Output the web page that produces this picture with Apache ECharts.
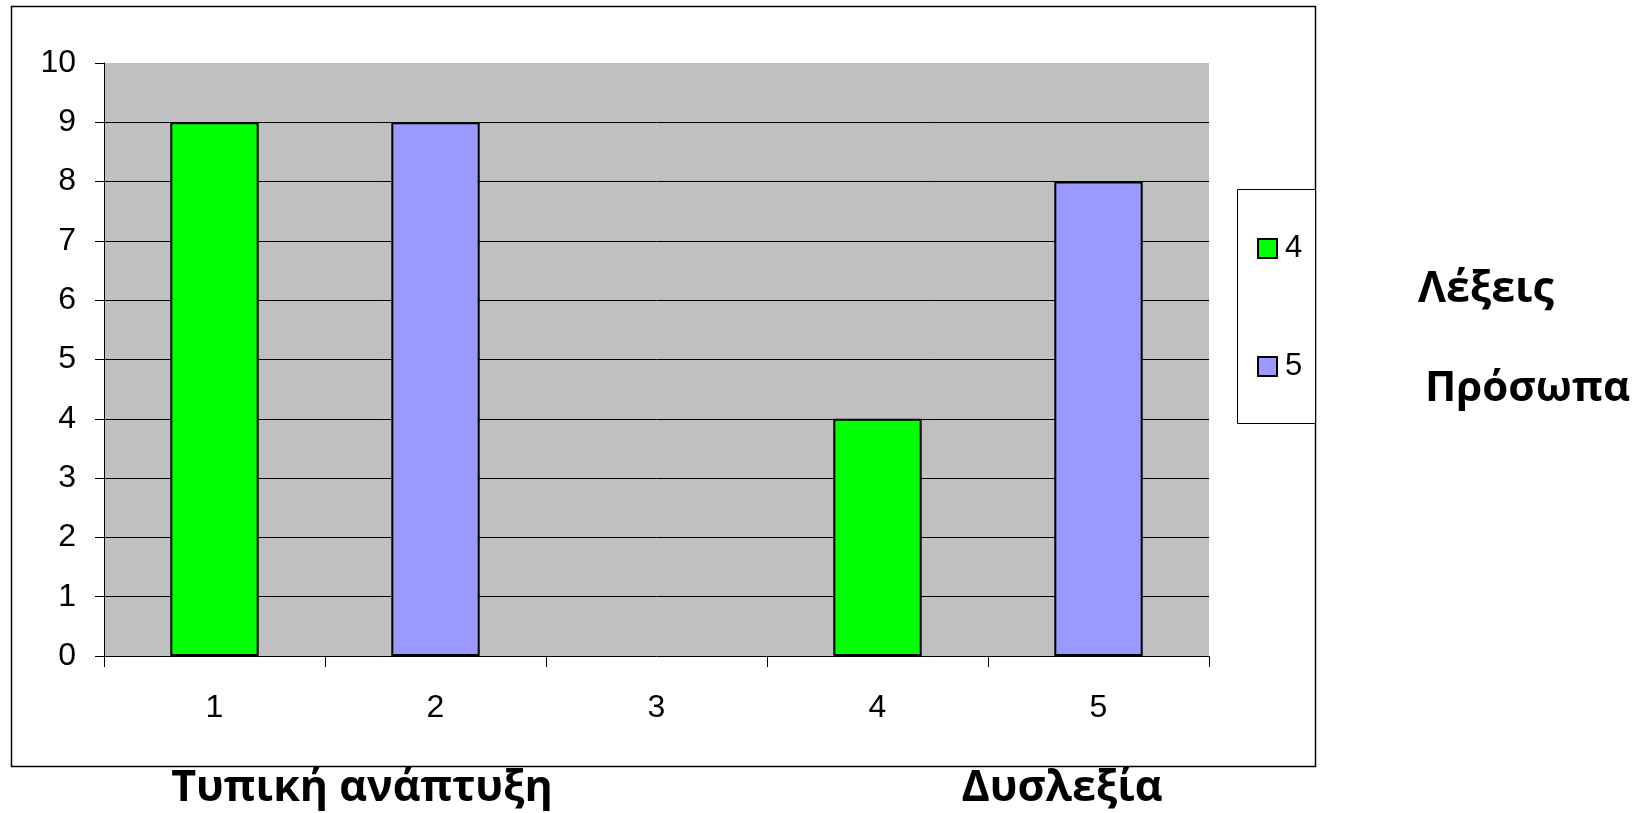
<!DOCTYPE html>
<html>
<head>
<meta charset="utf-8">
<script src="https://cdn.jsdelivr.net/npm/echarts@6/dist/echarts.min.js"></script>
<style>
  html, body { margin: 0; padding: 0; background: #fff; }
  #chart { width: 1639px; height: 813px; }
</style>
</head>
<body>
<div id="chart"></div>
<script>
// Categories along the x axis
const categories = ['1', '2', '3', '4', '5'];
// Series "4" (Λέξεις) and "5" (Πρόσωπα); '-' marks an empty slot
const seriesNames = ['4', '5'];
const valuesLexeis = [9, '-', '-', 4, '-'];
const valuesProsopa = ['-', 9, '-', '-', 8];
// Value axis ticks
const yTicks = [0, 1, 2, 3, 4, 5, 6, 7, 8, 9, 10];
// Group captions
const groupLabels = ['Τυπική ανάπτυξη', 'Δυσλεξία'];
const sideLabels = ['Λέξεις', 'Πρόσωπα'];

const FONT = '"Liberation Sans", Arial, sans-serif';
const BOLD = 'bold 43px "Open Sans", "Noto Sans", sans-serif';

const chart = echarts.init(document.getElementById('chart'), null, { renderer: 'canvas' });

chart.setOption({
  animation: false,
  backgroundColor: '#ffffff',
  textStyle: { fontFamily: FONT },
  grid: {
    left: 104, top: 63, right: 430, bottom: 157,
    show: true, backgroundColor: '#C0C0C0', borderWidth: 0
  },
  xAxis: {
    type: 'category',
    data: categories,
    axisLine: { show: true, lineStyle: { color: '#000', width: 1 } },
    axisTick: { show: true, length: 11, lineStyle: { color: '#000', width: 1 } },
    axisLabel: { color: '#000', fontSize: 32, fontFamily: FONT, margin: 36 },
    splitLine: { show: false }
  },
  yAxis: {
    type: 'value',
    min: yTicks[0],
    max: yTicks[yTicks.length - 1],
    interval: 1,
    axisLine: { show: true, lineStyle: { color: '#000', width: 1 } },
    axisTick: { show: true, length: 9, lineStyle: { color: '#000', width: 1 } },
    axisLabel: { color: '#000', fontSize: 32, fontFamily: FONT, margin: 28 },
    splitLine: {
      show: true, showMinLine: false, showMaxLine: false,
      lineStyle: { color: '#000', width: 1 }
    }
  },
  legend: {
    orient: 'vertical',
    left: 1257,
    top: 233,
    padding: 0,
    itemWidth: 19,
    itemHeight: 19,
    itemGap: 87,
    icon: 'rect',
    data: seriesNames,
    textStyle: { color: '#000', fontSize: 31, fontFamily: FONT, lineHeight: 31, padding: [0, 0, 0, 3] }
  },
  series: [
    {
      name: seriesNames[0],
      type: 'bar',
      stack: 'one',
      barWidth: '40%',
      data: valuesLexeis,
      itemStyle: { color: '#00FF00', borderColor: '#000', borderWidth: 2 }
    },
    {
      name: seriesNames[1],
      type: 'bar',
      stack: 'one',
      barWidth: '40%',
      data: valuesProsopa,
      itemStyle: { color: '#9999FF', borderColor: '#000', borderWidth: 2 }
    }
  ],
  graphic: [
    // chart frame
    {
      type: 'rect', z: -1, silent: true,
      shape: { x: 11.5, y: 6.5, width: 1304, height: 760 },
      style: { fill: 'none', stroke: '#000', lineWidth: 1.5 }
    },
    // legend box
    {
      type: 'rect', z: -1, silent: true,
      shape: { x: 1237.5, y: 189.5, width: 78, height: 234 },
      style: { fill: '#fff', stroke: '#000', lineWidth: 1 }
    },
    {
      type: 'text', silent: true,
      x: 362, y: 789,
      style: { text: groupLabels[0], font: BOLD, fill: '#000', align: 'center', verticalAlign: 'middle' }
    },
    {
      type: 'text', silent: true,
      x: 1062, y: 789,
      style: { text: groupLabels[1], font: BOLD, fill: '#000', align: 'center', verticalAlign: 'middle' }
    },
    {
      type: 'text', silent: true,
      x: 1418, y: 290,
      style: { text: sideLabels[0], font: BOLD, fill: '#000', align: 'left', verticalAlign: 'middle' }
    },
    {
      type: 'text', silent: true,
      x: 1425, y: 389,
      style: { text: sideLabels[1], font: 'bold 42px "Open Sans", "Noto Sans", sans-serif', fill: '#000', align: 'left', verticalAlign: 'middle' }
    }
  ]
});
</script>
</body>
</html>
